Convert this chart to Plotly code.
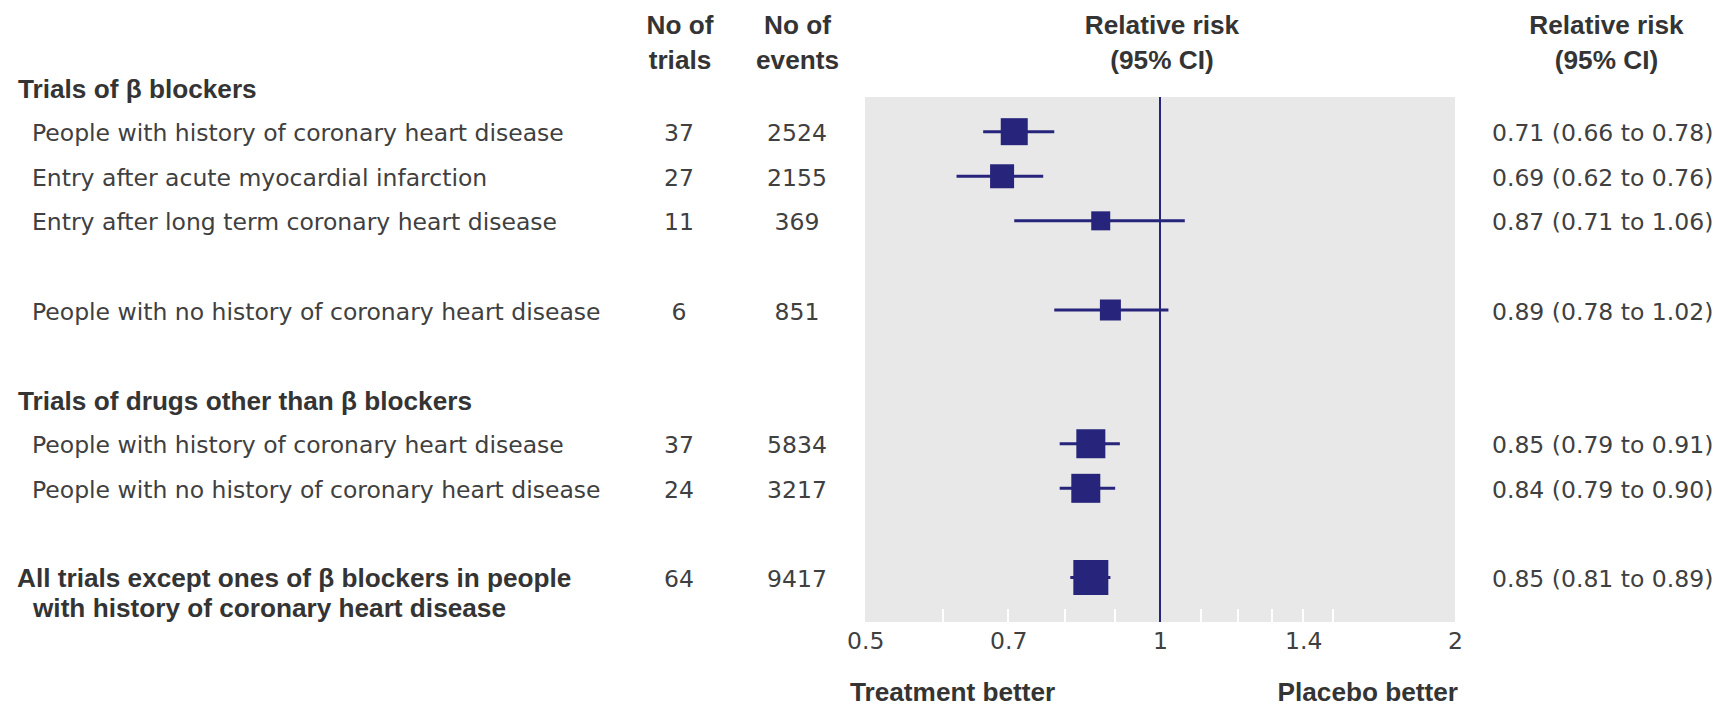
import math
import plotly.graph_objects as go

# ---- data -------------------------------------------------------------
row_labels = [
    "People with history of coronary heart disease",
    "Entry after acute myocardial infarction",
    "Entry after long term coronary heart disease",
    "People with no history of coronary heart disease",
    "People with history of coronary heart disease",
    "People with no history of coronary heart disease",
    "All trials except ones of β blockers in people",
]
row_label_cont = [None, None, None, None, None, None,
                  "with history of coronary heart disease"]
row_bold = [False, False, False, False, False, False, True]
n_trials = [37, 27, 11, 6, 37, 24, 64]
n_events = [2524, 2155, 369, 851, 5834, 3217, 9417]
rr = [0.71, 0.69, 0.87, 0.89, 0.85, 0.84, 0.85]
ci_low = [0.66, 0.62, 0.71, 0.78, 0.79, 0.79, 0.81]
ci_high = [0.78, 0.76, 1.06, 1.02, 0.91, 0.90, 0.89]

section_titles = ["Trials of β blockers", "Trials of drugs other than β blockers"]

# table layout: section heading, study row, or blank spacer line
table_lines = [
    ("head", 0), ("row", 0), ("row", 1), ("row", 2), ("gap", None), ("row", 3),
    ("gap", None), ("head", 1), ("row", 4), ("row", 5), ("gap", None), ("row", 6),
]

tick_values = [0.5, 0.7, 1, 1.4, 2]
tick_labels = ["0.5", "0.7", "1", "1.4", "2"]
minor_tick_values = [0.6, 0.7, 0.8, 0.9, 1.0, 1.1, 1.2, 1.3, 1.4, 1.5]

# ---- styling ----------------------------------------------------------
W, H = 1729, 704
NAVY = "#26247B"
PANEL = "#E8E8E8"
TXT = "#404040"
BTXT = "#343434"
REG_SIZE, BOLD_SIZE = 23.5, 26.2
REG = dict(family="DejaVu Sans", size=REG_SIZE, color=TXT)
BOLD = dict(family="Liberation Sans, Arial", size=BOLD_SIZE, color=BTXT)
box_px = [27, 24, 19, 21, 29, 29, 35]

# pixel geometry of the plotting panel
px_left, px_right, px_top, px_bottom = 865, 1455, 97, 622
y_first, y_step = 87.1, 44.58   # pixel centre of table line 0 and line pitch
y_lo = (px_top - y_first) / y_step
y_hi = (px_bottom - y_first) / y_step


def line_px(i):
    """Pixel centre of table line i."""
    return y_first + i * y_step


def text_y(baseline, size, nlines=1):
    """Anchor y for a 'middle' text point whose first baseline sits at `baseline`."""
    span = (nlines - 1) * 1.3 + 1
    return baseline - 0.75 * size + span * size / 2


row_idx = {}
head_idx = {}
for i, (kind, ref) in enumerate(table_lines):
    if kind == "row":
        row_idx[ref] = i
    elif kind == "head":
        head_idx[ref] = i
ys = [row_idx[k] for k in range(len(row_labels))]

fig = go.Figure()

# grey panel behind the forest plot
fig.add_shape(type="rect", xref="x domain", yref="y domain", x0=0, x1=1, y0=0, y1=1,
              fillcolor=PANEL, line=dict(width=0), layer="below")

# confidence intervals
cx, cy = [], []
for lo, hi, y in zip(ci_low, ci_high, ys):
    cx += [lo, hi, None]
    cy += [y, y, None]
fig.add_trace(go.Scatter(x=cx, y=cy, mode="lines",
                         line=dict(color=NAVY, width=3),
                         hoverinfo="skip", showlegend=False))

# point estimates
fig.add_trace(go.Scatter(x=rr, y=ys, mode="markers",
                         marker=dict(symbol="square", size=box_px, color=NAVY,
                                     opacity=1, line=dict(width=0)),
                         showlegend=False))

# line of no effect
fig.add_shape(type="line", x0=1, x1=1, xref="x", y0=0, y1=1, yref="y domain",
              line=dict(color=NAVY, width=2))

# x tick labels, positioned on the log x axis
tick_ann = [dict(x=math.log10(v), xref="x", y=1 - 641 / H, yref="paper",
                 text=lab, showarrow=False, font=REG,
                 xanchor="center", yanchor="middle")
            for v, lab in zip(tick_values, tick_labels)]

# ---- table text on a full-figure pixel overlay ----------------------------
texts = []  # (x, y, text, position, font)


def put(x, baseline, text, pos, font, size, nlines=1):
    texts.append((x, text_y(baseline, size, nlines), text, pos, font))


# column headers
for px, txt in [(680, "No of<br>trials"), (797.5, "No of<br>events"),
                (1162, "Relative risk<br>(95% CI)"), (1606.5, "Relative risk<br>(95% CI)")]:
    put(px, 34.5, f"<b>{txt}</b>", "middle center", BOLD, BOLD_SIZE, nlines=2)

# section headings
for k, title in enumerate(section_titles):
    put(18, line_px(head_idx[k]) + 11, f"<b>{title}</b>", "middle right", BOLD, BOLD_SIZE)

# study rows
for k, lab in enumerate(row_labels):
    c = line_px(ys[k])
    if row_bold[k]:
        put(17, c + 10, f"<b>{lab}</b>", "middle right", BOLD, BOLD_SIZE)
        if row_label_cont[k]:
            put(33, c + 40, f"<b>{row_label_cont[k]}</b>", "middle right", BOLD, BOLD_SIZE)
    else:
        put(32, c + 9.5, lab, "middle right", REG, REG_SIZE)
    put(679, c + 9.5, str(n_trials[k]), "middle center", REG, REG_SIZE)
    put(797, c + 9.5, str(n_events[k]), "middle center", REG, REG_SIZE)
    put(1492, c + 9.5, f"{rr[k]:.2f} ({ci_low[k]:.2f} to {ci_high[k]:.2f})",
        "middle right", REG, REG_SIZE)

# direction labels under the axis
put(850, 701, "<b>Treatment better</b>", "middle right", BOLD, BOLD_SIZE)
put(1458, 701, "<b>Placebo better</b>", "middle left", BOLD, BOLD_SIZE)

for x, y, t, pos, font in texts:
    fig.add_trace(go.Scatter(x=[x], y=[y], mode="text", text=[t], textposition=pos,
                             textfont=font, cliponaxis=False, hoverinfo="skip",
                             showlegend=False, xaxis="x2", yaxis="y2"))

fig.update_layout(
    width=W, height=H, autosize=False,
    margin=dict(l=0, r=0, t=0, b=0, pad=0, autoexpand=False),
    paper_bgcolor="white", plot_bgcolor="rgba(0,0,0,0)",
    annotations=tick_ann,
    xaxis=dict(
        type="log", domain=[px_left / W, px_right / W],
        range=[-0.30103, 0.30103],
        tickvals=tick_values, ticks="", showticklabels=False,
        showgrid=False, zeroline=False, showline=False,
        minor=dict(tickvals=minor_tick_values, ticks="inside", ticklen=13,
                   tickwidth=2, tickcolor="white", showgrid=False),
    ),
    yaxis=dict(
        domain=[1 - px_bottom / H, 1 - px_top / H],
        range=[y_hi, y_lo],
        showticklabels=False, ticks="", showgrid=False, zeroline=False,
        showline=False,
    ),
    xaxis2=dict(domain=[0, 1], range=[0, W], visible=False, anchor="y2",
                fixedrange=True),
    yaxis2=dict(domain=[0, 1], range=[H, 0], visible=False, anchor="x2",
                fixedrange=True),
    showlegend=False,
)

fig.write_html("out.html")
